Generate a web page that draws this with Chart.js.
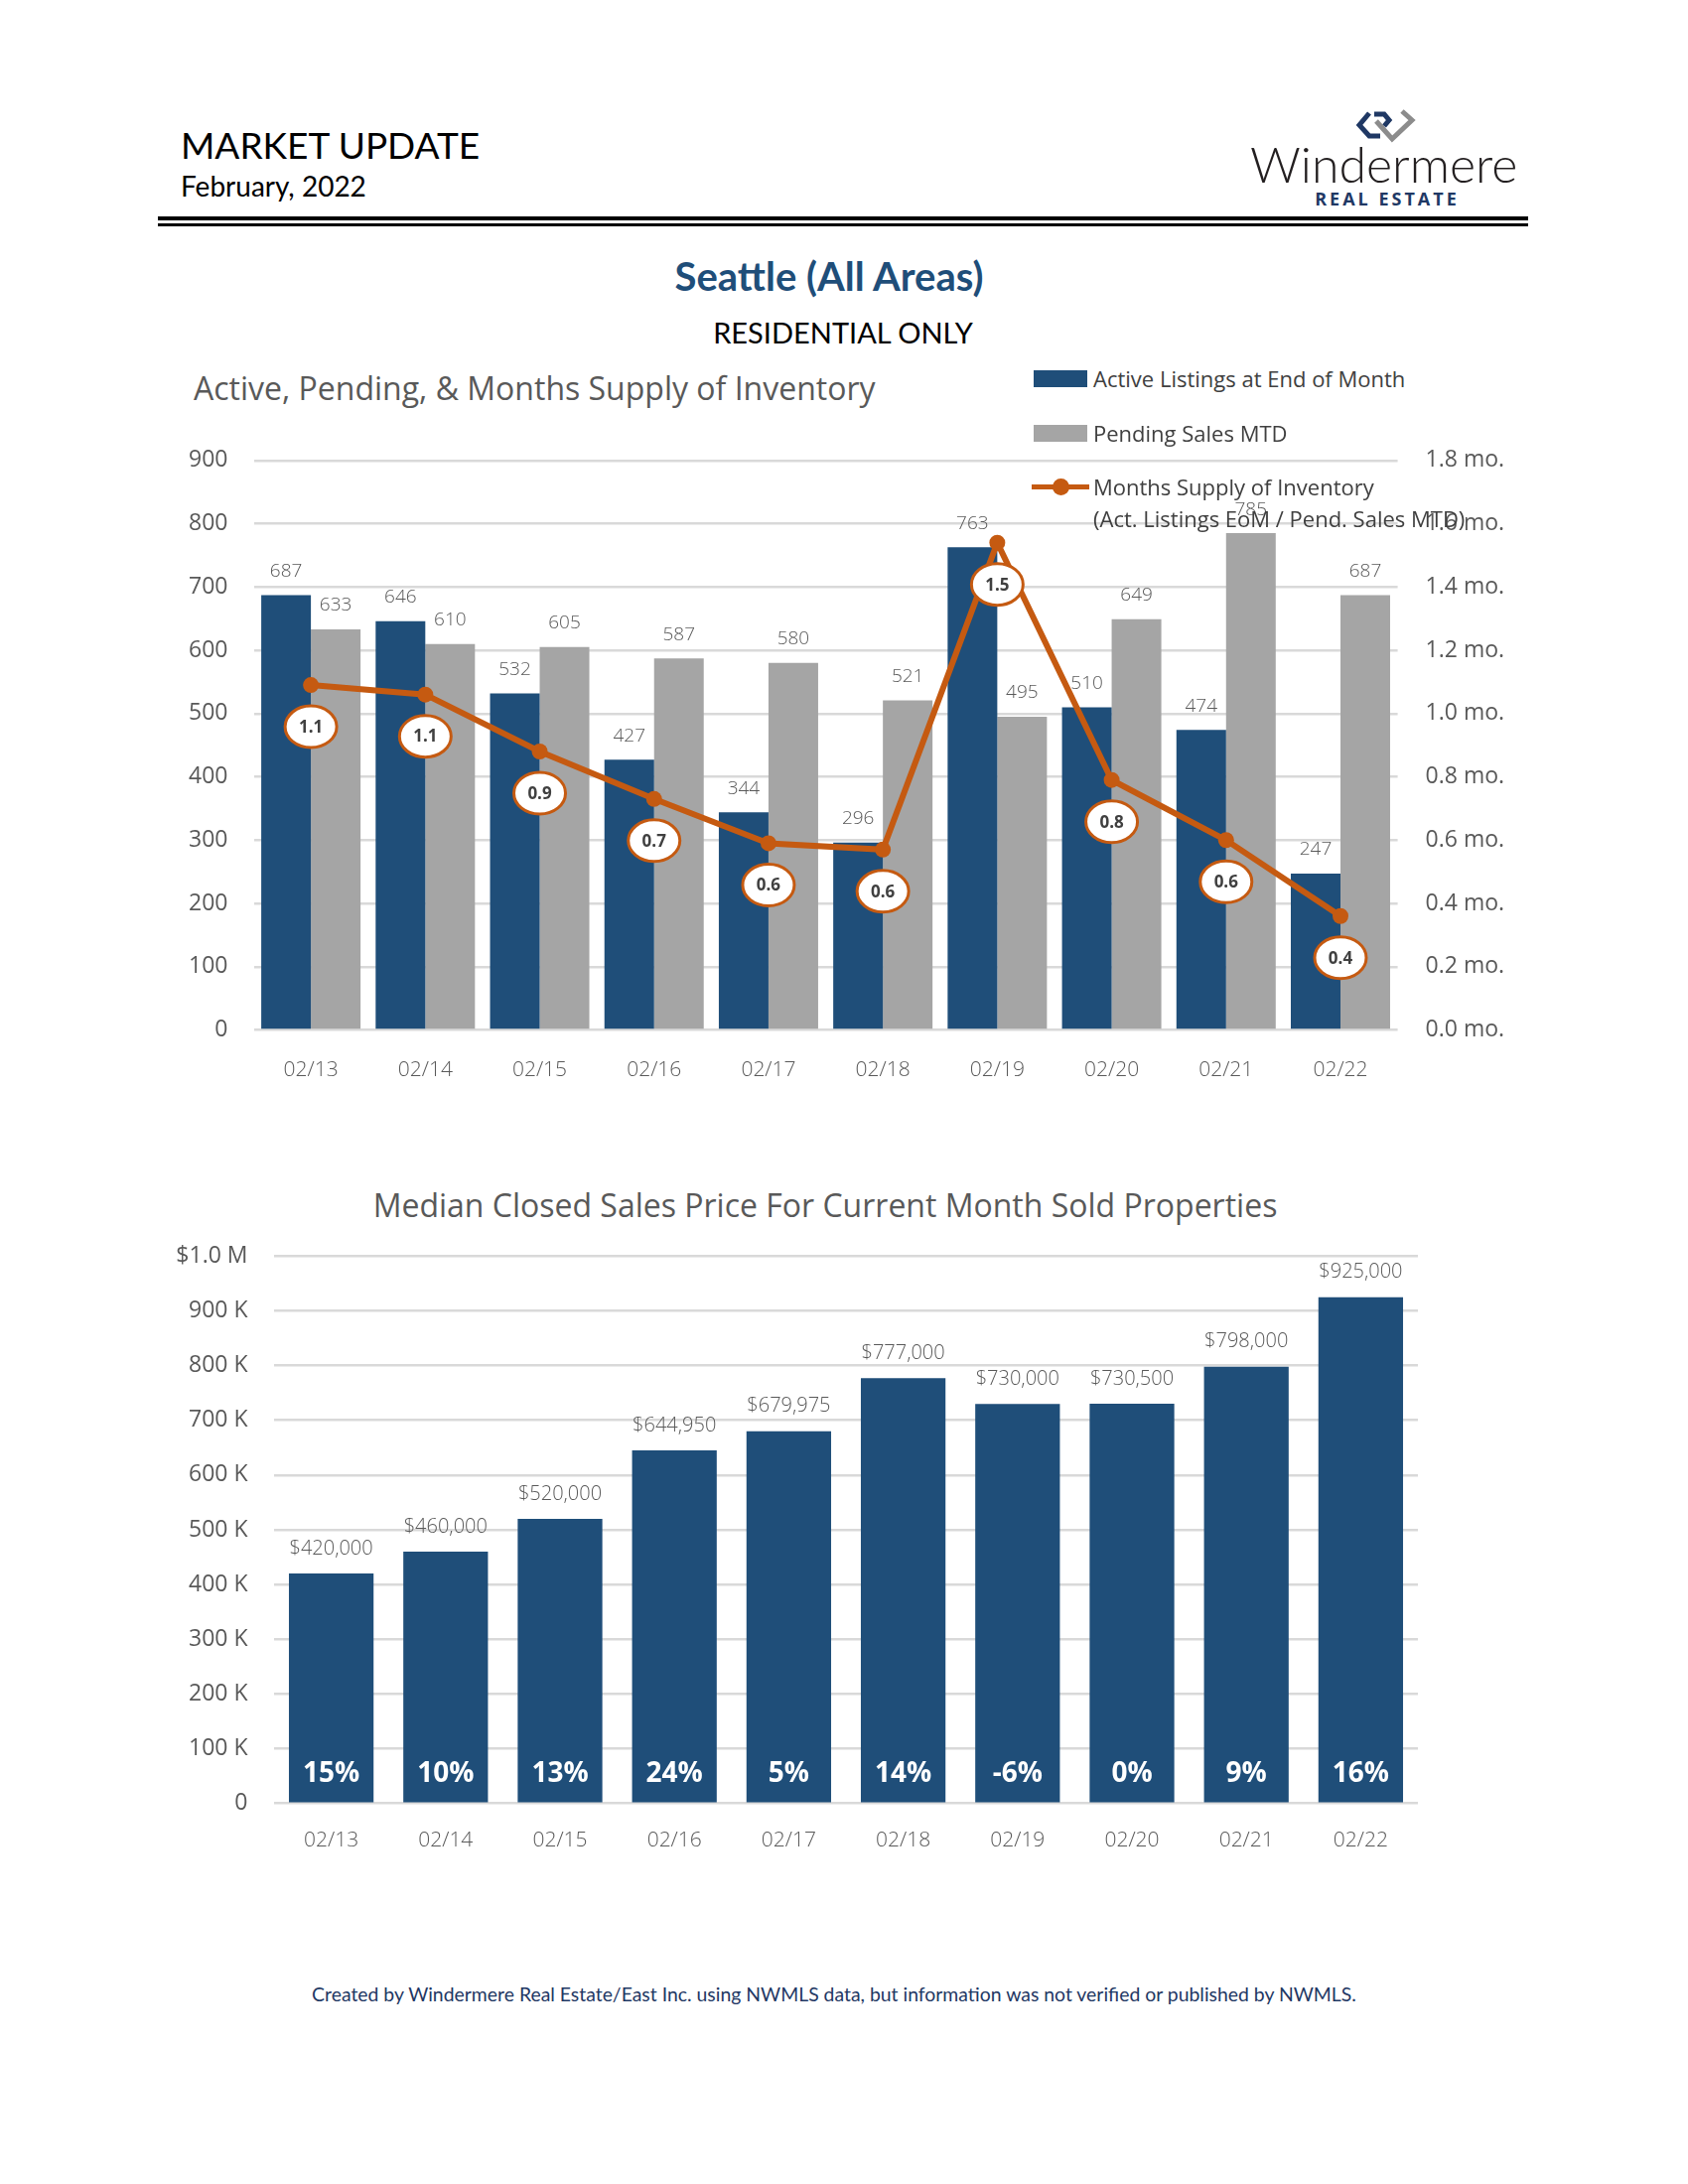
<!DOCTYPE html>
<html>
<head>
<meta charset="UTF-8" />
<title>Market Update - Seattle (All Areas)</title>
<script src="https://cdn.jsdelivr.net/npm/chart.js"></script>
<style>
  body {
    margin: 0;
    width: 1700px;
    height: 2200px;
    position: relative;
    background: #fff;
    font-family: 'Open Sans', sans-serif;
    overflow: hidden;
  }
  .t { position: absolute; white-space: nowrap; line-height: 1; }
  .mid { transform: translateY(-50%); }
  .ctr { transform: translate(-50%, -50%); }
  .calibri { font-family: 'Lato', sans-serif; }
  .rule { position: absolute; left: 159px; width: 1380px; background: #000; }
  .box { position: absolute; }
  .chartbox { position: absolute; }
  .leg { color: #404040; font-size: 22px; }
</style>
</head>
<body>
  <div class="t mid calibri" style="left:182px; top:145px; font-size:37px; color:#000;">MARKET UPDATE</div>
  <div class="t mid calibri" style="left:182px; top:187px; font-size:28px; color:#000;">February, 2022</div>

  <svg style="position:absolute; left:0; top:0;" width="1700" height="240">
    <polyline points="1379,114 1369,126 1379,137 1390,137" fill="none" stroke="#1f3864" stroke-width="5"/>
    <polyline points="1384,115 1394,115 1399,121 1394,127" fill="none" stroke="#1f3864" stroke-width="5"/>
    <polyline points="1386,122 1402,140 1422,121 1412,112" fill="none" stroke="#8c8c8c" stroke-width="5"/>
  </svg>
  <div class="t mid calibri" style="left:1259px; top:165px; font-size:50px; font-weight:300; color:#231f20;">Windermere</div>
  <div class="t ctr" style="left:1397px; top:200px; font-size:18px; font-weight:700; letter-spacing:3px; color:#1f3864;">REAL ESTATE</div>

  <div class="rule" style="top:218px; height:4px;"></div>
  <div class="rule" style="top:225px; height:3px;"></div>

  <div class="t ctr calibri" style="left:835px; top:278px; font-size:40px; font-weight:700; color:#1f4e79;">Seattle (All Areas)</div>
  <div class="t ctr calibri" style="left:849px; top:334px; font-size:29px; color:#000;">RESIDENTIAL ONLY</div>

  <div class="t mid" style="left:195px; top:391px; font-size:32px; color:#595959;">Active, Pending, &amp; Months Supply of Inventory</div>

  <div class="chartbox" style="left:150px; top:422px; width:1380px; height:688px;">
    <canvas id="inventoryChart"></canvas>
  </div>

  <!-- legend for the inventory chart -->
  <div class="box" style="left:1041px; top:373px; width:54px; height:17px; background:#1f4e79;"></div>
  <div class="t mid leg" style="left:1101px; top:381px;">Active Listings at End of Month</div>
  <div class="box" style="left:1041px; top:428px; width:54px; height:17px; background:#a5a5a5;"></div>
  <div class="t mid leg" style="left:1101px; top:436px;">Pending Sales MTD</div>
  <div class="box" style="left:1039px; top:488px; width:58px; height:5px; background:#c55a11;"></div>
  <div class="box" style="left:1060px; top:482px; width:17px; height:17px; border-radius:50%; background:#c55a11;"></div>
  <div class="t mid leg" style="left:1101px; top:490px;">Months Supply of Inventory</div>
  <div class="t mid leg" style="left:1101px; top:522px;">(Act. Listings EoM / Pend. Sales MTD)</div>

  <div class="t ctr" style="left:831px; top:1214px; font-size:32px; color:#595959;">Median Closed Sales Price For Current Month Sold Properties</div>

  <div class="chartbox" style="left:150px; top:1225px; width:1300px; height:678px;">
    <canvas id="priceChart"></canvas>
  </div>

  <div class="t ctr calibri" style="left:840px; top:2009px; font-size:19.4px; color:#1f3864;">Created by Windermere Real Estate/East Inc. using NWMLS data, but information was not verified or published by NWMLS.</div>

<script>
  const months = ['02/13', '02/14', '02/15', '02/16', '02/17', '02/18', '02/19', '02/20', '02/21', '02/22'];
  const activeListings = [687, 646, 532, 427, 344, 296, 763, 510, 474, 247];
  const pendingSales = [633, 610, 605, 587, 580, 521, 495, 649, 785, 687];
  const monthsSupply = [1.09, 1.06, 0.88, 0.73, 0.59, 0.57, 1.54, 0.79, 0.60, 0.36];
  const medianPrice = [420000, 460000, 520000, 644950, 679975, 777000, 730000, 730500, 798000, 925000];
  const yearChange = ['15%', '10%', '13%', '24%', '5%', '14%', '-6%', '0%', '9%', '16%'];

  const NAVY = '#1f4e79';
  const GRAY = '#a5a5a5';
  const ORANGE = '#c55a11';
  const TEXT = '#595959';
  const GRID = '#d9d9d9';

  Chart.defaults.font.family = "'Open Sans', sans-serif";
  Chart.defaults.color = TEXT;

  const tickFont = { size: 23 };
  const catFont = { size: 21, weight: 300 };

  function fixWidth(w) { return s => { s.width = w; }; }
  function fixHeight(h) { return s => { s.height = h; }; }

  // value labels drawn from the element positions
  const inventoryLabels = {
    id: 'inventoryLabels',
    afterDatasetsDraw(chart) {
      const ctx = chart.ctx;
      ctx.save();
      ctx.textAlign = 'center';
      ctx.textBaseline = 'middle';
      [0, 1].forEach(i => {
        const meta = chart.getDatasetMeta(i);
        const data = chart.data.datasets[i].data;
        ctx.font = "300 19px 'Open Sans', sans-serif";
        ctx.fillStyle = TEXT;
        meta.data.forEach((el, j) => ctx.fillText(data[j], el.x, el.y - 24));
      });
      const meta = chart.getDatasetMeta(2);
      meta.data.forEach((el, j) => {
        const cx = el.x, cy = el.y + 42;
        ctx.beginPath();
        ctx.ellipse(cx, cy, 26, 21, 0, 0, Math.PI * 2);
        ctx.fillStyle = '#fff';
        ctx.fill();
        ctx.lineWidth = 3;
        ctx.strokeStyle = ORANGE;
        ctx.stroke();
        ctx.font = "bold 17px 'Open Sans', sans-serif";
        ctx.fillStyle = '#404040';
        ctx.fillText(monthsSupply[j].toFixed(1), cx, cy + 1);
      });
      ctx.restore();
    }
  };

  new Chart(document.getElementById('inventoryChart'), {
    data: {
      labels: months,
      datasets: [
        { type: 'bar', label: 'Active Listings at End of Month', data: activeListings, backgroundColor: NAVY, yAxisID: 'y', order: 2 },
        { type: 'bar', label: 'Pending Sales MTD', data: pendingSales, backgroundColor: GRAY, yAxisID: 'y', order: 2 },
        { type: 'line', label: 'Months Supply of Inventory', data: monthsSupply, borderColor: ORANGE, backgroundColor: ORANGE,
          borderWidth: 6, pointRadius: 8, pointBorderWidth: 0, yAxisID: 'y1', order: 1, tension: 0 }
      ]
    },
    options: {
      responsive: true,
      maintainAspectRatio: false,
      animation: false,
      devicePixelRatio: 1,
      layout: { padding: { top: 22, left: 0, right: 0, bottom: 0 } },
      datasets: { bar: { categoryPercentage: 0.868, barPercentage: 1.0 } },
      plugins: { legend: { display: false }, tooltip: { enabled: false } },
      scales: {
        x: {
          grid: { display: false },
          border: { display: false },
          ticks: { font: catFont, padding: 20, color: TEXT },
          afterFit: fixHeight(72.5)
        },
        y: {
          position: 'left',
          min: 0, max: 900,
          ticks: { stepSize: 100, font: tickFont, padding: 26, color: TEXT },
          grid: { color: GRID, lineWidth: 2.5, drawTicks: false },
          border: { display: false },
          afterFit: fixWidth(105.5)
        },
        y1: {
          position: 'right',
          min: 0, max: 1.8,
          ticks: { stepSize: 0.2, font: tickFont, padding: 28, color: TEXT, callback: v => v.toFixed(1) + ' mo.' },
          grid: { display: false, drawTicks: false },
          border: { display: false },
          afterFit: fixWidth(122.4)
        }
      }
    },
    plugins: [inventoryLabels]
  });

  const priceLabels = {
    id: 'priceLabels',
    afterDatasetsDraw(chart) {
      const ctx = chart.ctx;
      const meta = chart.getDatasetMeta(0);
      const base = chart.scales.y.getPixelForValue(0);
      ctx.save();
      ctx.textAlign = 'center';
      ctx.textBaseline = 'middle';
      meta.data.forEach((el, j) => {
        ctx.font = "300 20px 'Open Sans', sans-serif";
        ctx.fillStyle = TEXT;
        ctx.fillText('$' + medianPrice[j].toLocaleString('en-US'), el.x, el.y - 25);
        ctx.font = "bold 28px 'Open Sans', sans-serif";
        ctx.fillStyle = '#fff';
        ctx.fillText(yearChange[j], el.x, base - 30);
      });
      ctx.restore();
    }
  };

  new Chart(document.getElementById('priceChart'), {
    type: 'bar',
    data: {
      labels: months,
      datasets: [{ label: 'Median Closed Sales Price', data: medianPrice, backgroundColor: NAVY, categoryPercentage: 0.74, barPercentage: 1.0 }]
    },
    options: {
      responsive: true,
      maintainAspectRatio: false,
      animation: false,
      devicePixelRatio: 1,
      layout: { padding: { top: 23.7, left: 0, right: 22, bottom: 0 } },
      plugins: { legend: { display: false }, tooltip: { enabled: false } },
      scales: {
        x: {
          grid: { display: false },
          border: { display: false },
          ticks: { font: catFont, padding: 17, color: TEXT },
          afterFit: fixHeight(86.3)
        },
        y: {
          min: 0, max: 1000000,
          ticks: {
            stepSize: 100000, font: tickFont, padding: 26.5, color: TEXT,
            callback: v => v === 0 ? '0' : (v >= 1000000 ? '$1.0 M' : (v / 1000) + ' K')
          },
          grid: { color: GRID, lineWidth: 2.5, drawTicks: false },
          border: { display: false },
          afterFit: fixWidth(126)
        }
      }
    },
    plugins: [priceLabels]
  });
</script>
</body>
</html>
